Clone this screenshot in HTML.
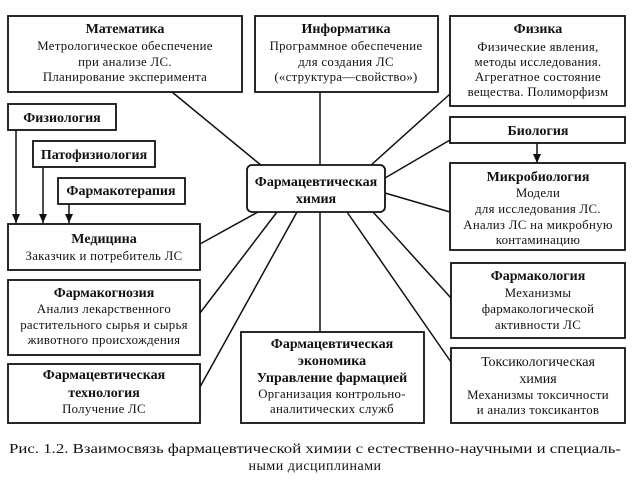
<!DOCTYPE html>
<html><head><meta charset="utf-8"><style>
html,body{margin:0;padding:0;background:#fff;}
svg{display:block;}
text{font-family:"Liberation Serif",serif;fill:#111;text-anchor:middle;}
.t{font-size:14px;font-weight:bold;}
.b{font-size:12.8px;letter-spacing:0.3px;}
.tn{font-size:14px;}
rect{fill:#fff;stroke:#111;stroke-width:1.8;}
line{stroke:#111;stroke-width:1.5;}
</style></head><body>
<svg width="640" height="499" viewBox="0 0 640 499" xmlns="http://www.w3.org/2000/svg">
<defs><marker id="a" markerWidth="9" markerHeight="8" refX="9" refY="4" orient="auto" markerUnits="userSpaceOnUse"><path d="M0,0 L9,4 L0,8 z" fill="#111"/></marker></defs>
<line x1="172" y1="92" x2="262" y2="166"/>
<line x1="320" y1="92" x2="320" y2="166"/>
<line x1="450" y1="94" x2="370" y2="166"/>
<line x1="450" y1="140" x2="385" y2="178"/>
<line x1="385" y1="193" x2="450" y2="212"/>
<line x1="200" y1="244" x2="258" y2="212"/>
<line x1="277" y1="212" x2="200" y2="313"/>
<line x1="297" y1="212" x2="200" y2="387"/>
<line x1="320" y1="212" x2="320" y2="332"/>
<line x1="373" y1="212" x2="451" y2="298"/>
<line x1="347" y1="212" x2="451" y2="362"/>
<line x1="16" y1="130" x2="16" y2="223" marker-end="url(#a)"/>
<line x1="43" y1="167" x2="43" y2="223" marker-end="url(#a)"/>
<line x1="69" y1="204" x2="69" y2="223" marker-end="url(#a)"/>
<line x1="537" y1="143" x2="537" y2="163" marker-end="url(#a)"/>

<rect x="8" y="16" width="234" height="76"/>
<text class="t" x="125" y="33">Математика</text>
<text class="b" x="125" y="50">Метрологическое обеспечение</text>
<text class="b" x="125" y="66">при анализе ЛС.</text>
<text class="b" x="125" y="81">Планирование эксперимента</text>

<rect x="255" y="16" width="183" height="76"/>
<text class="t" x="346" y="33">Информатика</text>
<text class="b" x="346" y="50">Программное обеспечение</text>
<text class="b" x="346" y="66">для создания ЛС</text>
<text class="b" x="346" y="81">(«структура—свойство»)</text>

<rect x="450" y="16" width="175" height="90"/>
<text class="t" x="538" y="33">Физика</text>
<text class="b" x="538" y="51">Физические явления,</text>
<text class="b" x="538" y="66">методы исследования.</text>
<text class="b" x="538" y="81">Агрегатное состояние</text>
<text class="b" x="538" y="96">вещества. Полиморфизм</text>

<rect x="450" y="117" width="175" height="26"/>
<text class="t" x="538" y="135">Биология</text>

<rect x="450" y="163" width="175" height="87"/>
<text class="t" x="538" y="181">Микробиология</text>
<text class="b" x="538" y="197">Модели</text>
<text class="b" x="538" y="213">для исследования ЛС.</text>
<text class="b" x="538" y="229">Анализ ЛС на микробную</text>
<text class="b" x="538" y="244">контаминацию</text>

<rect x="8" y="104" width="108" height="26"/>
<text class="t" x="62" y="122">Физиология</text>
<rect x="33" y="141" width="122" height="26"/>
<text class="t" x="94" y="159">Патофизиология</text>
<rect x="58" y="178" width="127" height="26"/>
<text class="t" x="121" y="195">Фармакотерапия</text>

<rect x="247" y="165" width="138" height="47" rx="5"/>
<text class="t" x="316" y="186">Фармацевтическая</text>
<text class="t" x="316" y="203">химия</text>

<rect x="8" y="224" width="192" height="46"/>
<text class="t" x="104" y="243">Медицина</text>
<text class="b" x="104" y="260">Заказчик и потребитель ЛС</text>

<rect x="8" y="280" width="192" height="75"/>
<text class="t" x="104" y="297">Фармакогнозия</text>
<text class="b" x="104" y="313">Анализ лекарственного</text>
<text class="b" x="104" y="329">растительного сырья и сырья</text>
<text class="b" x="104" y="344">животного происхождения</text>

<rect x="8" y="364" width="192" height="59"/>
<text class="t" x="104" y="379">Фармацевтическая</text>
<text class="t" x="104" y="397">технология</text>
<text class="b" x="104" y="413">Получение ЛС</text>

<rect x="241" y="332" width="183" height="91"/>
<text class="t" x="332" y="348">Фармацевтическая</text>
<text class="t" x="332" y="365">экономика</text>
<text class="t" x="332" y="382">Управление фармацией</text>
<text class="b" x="332" y="398">Организация контрольно-</text>
<text class="b" x="332" y="413">аналитических служб</text>

<rect x="451" y="263" width="174" height="75"/>
<text class="t" x="538" y="280">Фармакология</text>
<text class="b" x="538" y="297">Механизмы</text>
<text class="b" x="538" y="313">фармакологической</text>
<text class="b" x="538" y="329">активности ЛС</text>

<rect x="451" y="348" width="174" height="75"/>
<text class="tn" x="538" y="366">Токсикологическая</text>
<text class="tn" x="538" y="383">химия</text>
<text class="b" x="538" y="399">Механизмы токсичности</text>
<text class="b" x="538" y="414">и анализ токсикантов</text>

<text style="font-size:14px" x="315" y="453" textLength="612" lengthAdjust="spacingAndGlyphs">Рис. 1.2. Взаимосвязь фармацевтической химии с естественно-научными и специаль-</text>
<text style="font-size:14px;letter-spacing:0.5px" x="315" y="470">ными дисциплинами</text>
</svg>
</body></html>
